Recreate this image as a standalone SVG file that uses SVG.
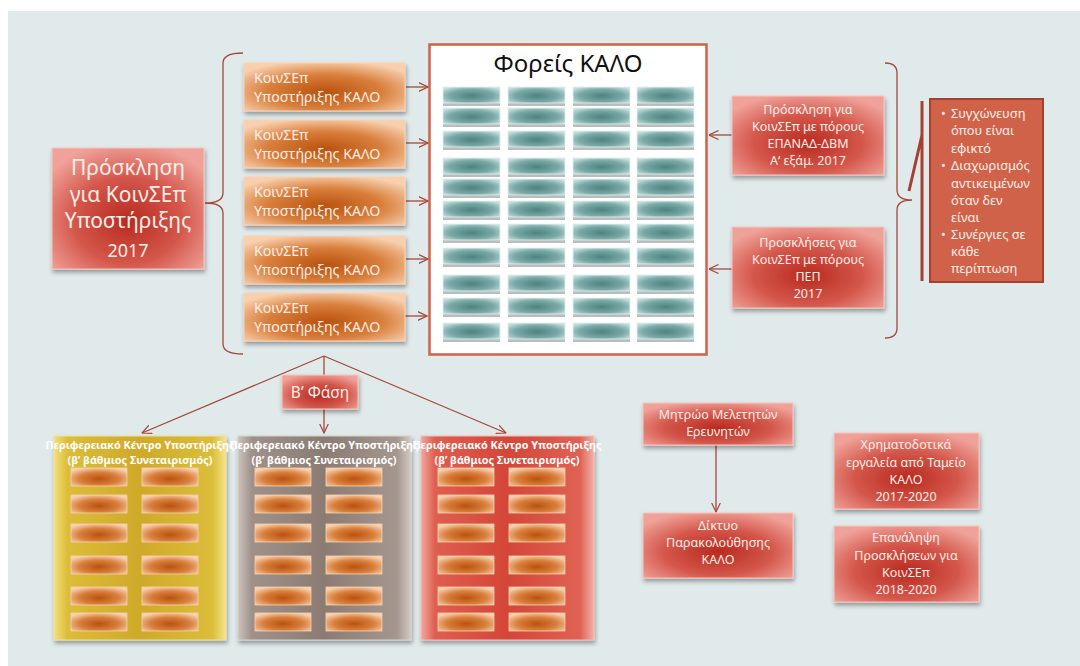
<svg xmlns="http://www.w3.org/2000/svg" width="1080" height="666" viewBox="0 0 1080 666">
<defs>
<style>
.t{font-family:"Noto Sans","Open Sans",sans-serif;fill:#fdeee8;text-anchor:middle}
.tl{font-family:"Noto Sans","Open Sans",sans-serif;fill:#fdeee8}
.c{fill:none;stroke:#a3483b;stroke-width:1.3}
.red{fill:url(#gRed);stroke:#f4c6bc;stroke-width:1;filter:url(#sh)}
.org{fill:url(#gOrg);stroke:#f7d2b6;stroke-width:1;filter:url(#sh)}
.teal{fill:url(#gTeal);stroke:#e2f0f0;stroke-width:0.8}
.tsh{fill:#a7adad;opacity:0.8}
.sob{fill:url(#gOrg);stroke:#f5cfb0;stroke-width:0.8}
.pt{font-family:"Noto Sans","Open Sans",sans-serif;fill:#ffffff;text-anchor:middle;font-weight:bold;font-size:10.8px}
</style>
<radialGradient id="gRed" cx="50%" cy="60%" r="65%">
<stop offset="0" stop-color="#b92a1f"/>
<stop offset="0.55" stop-color="#d4574b"/>
<stop offset="1" stop-color="#f0a29a"/>
</radialGradient>
<radialGradient id="gOrg" cx="50%" cy="60%" r="65%">
<stop offset="0" stop-color="#b9520f"/>
<stop offset="0.55" stop-color="#d97f3c"/>
<stop offset="1" stop-color="#f8d0ae"/>
</radialGradient>
<radialGradient id="gTeal" cx="50%" cy="55%" r="65%">
<stop offset="0" stop-color="#4c8380"/>
<stop offset="0.6" stop-color="#7aa9a6"/>
<stop offset="1" stop-color="#c4e0de"/>
</radialGradient>
<linearGradient id="gYel" x1="0" y1="0" x2="1" y2="0">
<stop offset="0" stop-color="#f2e07a"/>
<stop offset="0.08" stop-color="#dcbc38"/>
<stop offset="0.5" stop-color="#cfa92a"/>
<stop offset="0.92" stop-color="#dcbd3a"/>
<stop offset="1" stop-color="#f4e48a"/>
</linearGradient>
<linearGradient id="gGry" x1="0" y1="0" x2="1" y2="0">
<stop offset="0" stop-color="#cbc3bd"/>
<stop offset="0.08" stop-color="#9f918a"/>
<stop offset="0.5" stop-color="#8b7b72"/>
<stop offset="0.92" stop-color="#a5978f"/>
<stop offset="1" stop-color="#d2cbc6"/>
</linearGradient>
<linearGradient id="gRp" x1="0" y1="0" x2="1" y2="0">
<stop offset="0" stop-color="#f2a79e"/>
<stop offset="0.08" stop-color="#df5e50"/>
<stop offset="0.5" stop-color="#d44638"/>
<stop offset="0.92" stop-color="#e06254"/>
<stop offset="1" stop-color="#f4b0a8"/>
</linearGradient>
<filter id="sh" x="-10%" y="-10%" width="125%" height="135%">
<feDropShadow dx="1" dy="3" stdDeviation="2" flood-color="#000" flood-opacity="0.35"/>
</filter>
<marker id="ar" viewBox="0 0 10 10" refX="9.5" refY="5" markerWidth="10" markerHeight="10" markerUnits="userSpaceOnUse" orient="auto">
<path d="M0,0.5 L9.5,5 L0,9.5" fill="none" stroke="#a3483b" stroke-width="1.2"/>
</marker>
<g id="tbar">
<rect class="tsh" x="0" y="15" width="57" height="4"/>
<rect class="teal" x="0" y="0" width="57" height="16"/>
</g>
<g id="trow">
<use href="#tbar" x="443"/>
<use href="#tbar" x="508"/>
<use href="#tbar" x="573"/>
<use href="#tbar" x="637"/>
</g>
<g id="obar"><rect class="sob" x="0" y="0" width="56" height="18"/></g>
<g id="prow">
<use href="#obar" x="17"/>
<use href="#obar" x="88"/>
</g>
<g id="pbars">
<use href="#prow" y="468"/>
<use href="#prow" y="495"/>
<use href="#prow" y="524"/>
<use href="#prow" y="556"/>
<use href="#prow" y="587"/>
<use href="#prow" y="613"/>
</g>
</defs>

<rect x="8" y="11" width="1072" height="655" fill="#e1eaeb"/>

<g id="connectors">
<path class="c" d="M243,53 Q223,53 223,63 L223,193 Q223,203 205,203 Q223,203 223,213 L223,344 Q223,354 243,354"/>
<path class="c" d="M885,63 Q897,63 897,73 L897,190 Q897,200 912,200 Q897,200 897,210 L897,328 Q897,338 885,338"/>
<line class="c" x1="406" y1="87" x2="428" y2="87" marker-end="url(#ar)"/>
<line class="c" x1="406" y1="143" x2="428" y2="143" marker-end="url(#ar)"/>
<line class="c" x1="406" y1="201" x2="428" y2="201" marker-end="url(#ar)"/>
<line class="c" x1="406" y1="259" x2="428" y2="259" marker-end="url(#ar)"/>
<line class="c" x1="405" y1="316" x2="427" y2="316" marker-end="url(#ar)"/>
<line class="c" x1="732" y1="135" x2="709" y2="135" marker-end="url(#ar)"/>
<line class="c" x1="732" y1="269" x2="709" y2="269" marker-end="url(#ar)"/>
<line class="c" x1="324" y1="356" x2="142" y2="433" marker-end="url(#ar)"/>
<line class="c" x1="324" y1="356" x2="324" y2="433" marker-end="url(#ar)"/>
<line class="c" x1="324" y1="356" x2="506" y2="433" marker-end="url(#ar)"/>
<line class="c" x1="716" y1="445" x2="716" y2="512" marker-end="url(#ar)"/>
<path d="M909,191 L922,135 M922,101 L922,281" fill="none" stroke="#a64030" stroke-width="3"/>
</g>

<g id="call2017">
<rect class="red" x="52" y="148" width="152" height="121"/>
<text class="t" x="128" y="175" font-size="21">Πρόσκληση</text>
<text class="t" x="128" y="202" font-size="21">για ΚοινΣΕπ</text>
<text class="t" x="128" y="228" font-size="21">Υποστήριξης</text>
<text class="t" x="128" y="257" font-size="18">2017</text>
</g>

<g id="koinsep1"><rect class="org" x="244" y="63" width="161" height="48"/>
<text class="tl" x="254" y="83" font-size="14.2">ΚοινΣΕπ</text><text class="tl" x="254" y="102" font-size="14.2">Υποστήριξης ΚΑΛΟ</text></g>
<g id="koinsep2"><rect class="org" x="244" y="120" width="161" height="48"/>
<text class="tl" x="254" y="140" font-size="14.2">ΚοινΣΕπ</text><text class="tl" x="254" y="159" font-size="14.2">Υποστήριξης ΚΑΛΟ</text></g>
<g id="koinsep3"><rect class="org" x="244" y="177" width="161" height="48"/>
<text class="tl" x="254" y="197" font-size="14.2">ΚοινΣΕπ</text><text class="tl" x="254" y="216" font-size="14.2">Υποστήριξης ΚΑΛΟ</text></g>
<g id="koinsep4"><rect class="org" x="244" y="236" width="161" height="48"/>
<text class="tl" x="254" y="256" font-size="14.2">ΚοινΣΕπ</text><text class="tl" x="254" y="275" font-size="14.2">Υποστήριξης ΚΑΛΟ</text></g>
<g id="koinsep5"><rect class="org" x="244" y="293" width="161" height="48"/>
<text class="tl" x="254" y="313" font-size="14.2">ΚοινΣΕπ</text><text class="tl" x="254" y="332" font-size="14.2">Υποστήριξης ΚΑΛΟ</text></g>

<g id="foreis">
<rect x="429.5" y="44.5" width="277" height="310" fill="#ffffff" stroke="#d0614a" stroke-width="2.5"/>
<text x="568" y="72" font-family="'Noto Sans','Open Sans',sans-serif" font-size="24" fill="#111" text-anchor="middle">Φορείς ΚΑΛΟ</text>
<use href="#trow" y="87"/>
<use href="#trow" y="108"/>
<use href="#trow" y="131"/>
<use href="#trow" y="158"/>
<use href="#trow" y="179"/>
<use href="#trow" y="201"/>
<use href="#trow" y="224"/>
<use href="#trow" y="248"/>
<use href="#trow" y="275"/>
<use href="#trow" y="298"/>
<use href="#trow" y="323"/>
</g>

<g id="epanad">
<rect class="red" x="732" y="96" width="152" height="79"/>
<text class="t" x="808" y="114" font-size="12.5">Πρόσκληση για</text>
<text class="t" x="808" y="131" font-size="12.5">ΚοινΣΕπ με πόρους</text>
<text class="t" x="808" y="148" font-size="12.5">ΕΠΑΝΑΔ-ΔΒΜ</text>
<text class="t" x="808" y="165" font-size="12.5">Α‘ εξάμ. 2017</text>
</g>
<g id="pep">
<rect class="red" x="732" y="227" width="152" height="81"/>
<text class="t" x="808" y="247" font-size="12.5">Προσκλήσεις για</text>
<text class="t" x="808" y="264" font-size="12.5">ΚοινΣΕπ με πόρους</text>
<text class="t" x="808" y="281" font-size="12.5">ΠΕΠ</text>
<text class="t" x="808" y="298" font-size="12.5">2017</text>
</g>

<g id="bullets">
<rect x="930" y="99" width="113" height="183" fill="#d0624a" stroke="#a4402f" stroke-width="2"/>
<g class="tl" font-size="12.8">
<text x="941" y="118">•</text><text x="951" y="118">Συγχώνευση</text>
<text x="951" y="135">όπου είναι</text>
<text x="951" y="153">εφικτό</text>
<text x="941" y="170">•</text><text x="951" y="170">Διαχωρισμός</text>
<text x="951" y="188">αντικειμένων</text>
<text x="951" y="205">όταν δεν</text>
<text x="951" y="222">είναι</text>
<text x="941" y="239">•</text><text x="951" y="239">Συνέργιες σε</text>
<text x="951" y="256">κάθε</text>
<text x="951" y="273">περίπτωση</text>
</g>
</g>

<g id="phase">
<rect class="red" x="282" y="375" width="76" height="34"/>
<text class="t" x="320" y="398" font-size="15.5">Β’ Φάση</text>
</g>

<g id="panel1">
<rect x="54" y="436" width="172" height="204" fill="url(#gYel)" stroke="#efe2a0" stroke-width="1" filter="url(#sh)"/>
<text class="pt" x="140" y="449">Περιφερειακό Κέντρο Υποστήριξης</text>
<text class="pt" x="140" y="464">(β’ βάθμιος Συνεταιρισμός)</text>
<use href="#pbars" x="54"/>
</g>
<g id="panel2">
<rect x="238" y="436" width="173" height="204" fill="url(#gGry)" stroke="#d8d2ce" stroke-width="1" filter="url(#sh)"/>
<text class="pt" x="324" y="449">Περιφερειακό Κέντρο Υποστήριξης</text>
<text class="pt" x="324" y="464">(β’ βάθμιος Συνεταιρισμός)</text>
<use href="#pbars" x="238"/>
</g>
<g id="panel3">
<rect x="421" y="436" width="173" height="204" fill="url(#gRp)" stroke="#f4beb6" stroke-width="1" filter="url(#sh)"/>
<text class="pt" x="507" y="449">Περιφερειακό Κέντρο Υποστήριξης</text>
<text class="pt" x="507" y="464">(β’ βάθμιος Συνεταιρισμός)</text>
<use href="#pbars" x="421"/>
</g>

<g id="mitroo">
<rect class="red" x="643" y="403" width="150" height="42"/>
<text class="t" x="718" y="419" font-size="12.5">Μητρώο Μελετητών</text>
<text class="t" x="718" y="436" font-size="12.5">Ερευνητών</text>
</g>
<g id="diktyo">
<rect class="red" x="643" y="513" width="150" height="65"/>
<text class="t" x="718" y="530" font-size="12.5">Δίκτυο</text>
<text class="t" x="718" y="547" font-size="12.5">Παρακολούθησης</text>
<text class="t" x="718" y="564" font-size="12.5">ΚΑΛΟ</text>
</g>
<g id="xrimato">
<rect class="red" x="834" y="433" width="145" height="76"/>
<text class="t" x="906" y="449" font-size="12.5">Χρηματοδοτικά</text>
<text class="t" x="906" y="467" font-size="12.5">εργαλεία από Ταμείο</text>
<text class="t" x="906" y="484" font-size="12.5">ΚΑΛΟ</text>
<text class="t" x="906" y="501" font-size="12.5">2017-2020</text>
</g>
<g id="epanalipsi">
<rect class="red" x="834" y="526" width="145" height="76"/>
<text class="t" x="906" y="542" font-size="12.5">Επανάληψη</text>
<text class="t" x="906" y="560" font-size="12.5">Προσκλήσεων για</text>
<text class="t" x="906" y="577" font-size="12.5">ΚοινΣΕπ</text>
<text class="t" x="906" y="594" font-size="12.5">2018-2020</text>
</g>
</svg>
